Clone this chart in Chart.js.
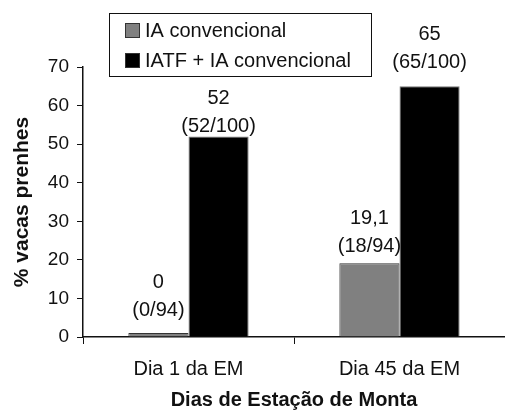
<!DOCTYPE html>
<html>
<head>
  <title>Vacas prenhes - Estação de Monta</title>
  <script src="https://cdn.jsdelivr.net/npm/chart.js"></script>
  <style>
    body {
      margin: 0;
      background-color: #fff;
    }
    .chart-box {
      width: 505px;
      height: 412px;
    }
  </style>
</head>
<body>
  <div class="chart-box">
    <canvas id="prenhezChart"></canvas>
  </div>

  <script>
    const categorias = ['Dia 1 da EM', 'Dia 45 da EM'];
    const series = ['IA convencional', 'IATF + IA convencional'];
    const iaConvencional = [0, 19.1];
    const iatfIa = [52, 65];
    const rotulosIa = [['0', '(0/94)'], ['19,1', '(18/94)']];
    const rotulosIatf = [['52', '(52/100)'], ['65', '(65/100)']];
    const yTicks = [0, 10, 20, 30, 40, 50, 60, 70];

    const fonte = "'Liberation Sans', Arial, sans-serif";

    // rótulos acima das barras (distância da primeira linha ao topo da barra)
    const afastamento = [[51, 45], [38, 52]];

    const rotulosPlugin = {
      id: 'rotulos',
      afterDatasetsDraw(chart) {
        const ctx = chart.ctx;
        const listas = [rotulosIa, rotulosIatf];
        ctx.save();
        ctx.font = '20px ' + fonte;
        ctx.fillStyle = '#111';
        ctx.textAlign = 'center';
        ctx.textBaseline = 'middle';
        chart.data.datasets.forEach((ds, i) => {
          chart.getDatasetMeta(i).data.forEach((bar, j) => {
            const linhas = listas[i][j];
            const d = afastamento[i][j];
            ctx.fillText(linhas[0], bar.x, bar.y - d);
            ctx.fillText(linhas[1], bar.x, bar.y - d + 28);
          });
        });
        ctx.restore();
      }
    };

    // legenda com caixa
    const legendaPlugin = {
      id: 'legendaCaixa',
      afterDraw(chart) {
        const ctx = chart.ctx;
        ctx.save();
        ctx.strokeStyle = '#111';
        ctx.lineWidth = 1;
        ctx.strokeRect(109.5, 13.5, 262, 63);
        ctx.font = '20px ' + fonte;
        ctx.textBaseline = 'middle';
        chart.data.datasets.forEach((ds, i) => {
          const y = 30 + i * 30;
          ctx.fillStyle = ds.backgroundColor;
          ctx.fillRect(125, y - 7, 15, 15);
          ctx.strokeStyle = '#333';
          ctx.strokeRect(125.5, y - 6.5, 14, 14);
          ctx.fillStyle = '#111';
          ctx.fillText(ds.label, 145, y + 1);
        });
        ctx.restore();
      }
    };

    const ctx = document.getElementById('prenhezChart').getContext('2d');

    new Chart(ctx, {
      type: 'bar',
      data: {
        labels: categorias,
        datasets: [{
          label: series[0],
          data: iaConvencional,
          backgroundColor: '#808080',
          borderColor: '#333',
          borderWidth: 1,
          minBarLength: 4
        }, {
          label: series[1],
          data: iatfIa,
          backgroundColor: '#000000',
          borderColor: '#777',
          borderWidth: 1
        }]
      },
      options: {
        responsive: true,
        maintainAspectRatio: false,
        animation: false,
        datasets: {
          bar: {
            categoryPercentage: 0.57,
            barPercentage: 1
          }
        },
        layout: {
          padding: { top: 67, right: 0, bottom: 0, left: 0 }
        },
        scales: {
          x: {
            afterFit: scale => { scale.height = 75; },
            border: { color: '#111', width: 1.5 },
            grid: {
              offset: true,
              drawOnChartArea: false,
              drawTicks: true,
              tickLength: 7,
              color: '#111'
            },
            ticks: {
              color: '#111',
              padding: 13,
              font: { family: fonte, size: 20 }
            },
            title: {
              display: true,
              text: 'Dias de Estação de Monta',
              color: '#111',
              font: { family: fonte, size: 20, weight: 'bold' },
              padding: { top: 4, bottom: 0 }
            }
          },
          y: {
            min: 0,
            max: 70,
            afterFit: scale => { scale.width = 83; },
            afterBuildTicks: scale => {
              scale.ticks = yTicks.map(v => ({ value: v }));
            },
            border: { color: '#111', width: 1.5 },
            grid: {
              drawOnChartArea: false,
              drawTicks: true,
              tickLength: 6,
              color: '#111'
            },
            ticks: {
              color: '#111',
              padding: 8,
              font: { family: fonte, size: 19 }
            },
            title: {
              display: true,
              text: '% vacas prenhes',
              color: '#111',
              font: { family: fonte, size: 21, weight: 'bold' },
              padding: { top: 10, bottom: 0 }
            }
          }
        },
        plugins: {
          legend: { display: false },
          tooltip: { enabled: false }
        }
      },
      plugins: [rotulosPlugin, legendaPlugin]
    });
  </script>
</body>
</html>
